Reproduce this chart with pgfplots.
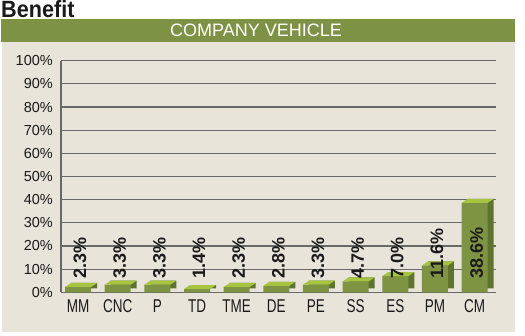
\documentclass[border=0pt]{standalone}
\usepackage{fontspec}
\setmainfont{Liberation Sans}
\newfontfamily\condfont[FakeStretch=0.73]{Liberation Sans}
\newfontfamily\titlefont[FakeStretch=0.92]{Liberation Sans}
\usepackage{pgfplots}
\pgfplotsset{compat=1.18}
\definecolor{beige}{HTML}{E8E4DA}
\definecolor{banner}{HTML}{7E9246}
\definecolor{barfront}{HTML}{7F9442}
\definecolor{barside}{HTML}{5F7330}
\definecolor{bartop}{HTML}{A7C440}
\definecolor{gridgray}{HTML}{686868}
\definecolor{txt}{HTML}{1A1A1A}
\pgfdeclareplotmark{topface}{%
  \pgfpathmoveto{\pgfqpoint{-13bp}{0bp}}%
  \pgfpathlineto{\pgfqpoint{13bp}{0bp}}%
  \pgfpathlineto{\pgfqpoint{19bp}{4bp}}%
  \pgfpathlineto{\pgfqpoint{-7bp}{4bp}}%
  \pgfpathclose
  \pgfusepathqfill}
\begin{document}
\begin{tikzpicture}
\useasboundingbox (0,0) rectangle (525bp,336bp);
\fill[white] (0,0) rectangle (525bp,336bp);
\fill[beige] (2bp,4bp) rectangle (515bp,294bp);
\fill[banner] (1bp,294bp) rectangle (515bp,317bp);
\node[anchor=base west, inner sep=0pt, text=txt, font=\titlefont\bfseries\fontsize{23.5bp}{23.5bp}\selectfont] at (1bp,318bp) {Benefit};
\node[anchor=base, inner sep=0pt, text=white, font=\fontsize{18bp}{18bp}\selectfont] at (256bp,299bp) {COMPANY VEHICLE};
\begin{axis}[
  at={(61bp,43.7bp)}, anchor=south west,
  scale only axis, width=435bp, height=231.6bp,
  xmin=-0.43, xmax=10.54, ymin=0, ymax=100,
  axis x line*=bottom, axis y line*=left,
  axis line style={-, draw=gridgray, line width=1.4bp},
  ytick={0,10,20,30,40,50,60,70,80,90,100},
  yticklabels={0\%,10\%,20\%,30\%,40\%,50\%,60\%,70\%,80\%,90\%,100\%},
  xtick={0,1,2,3,4,5,6,7,8,9,10},
  xticklabels={MM,CNC,P,TD,TME,DE,PE,SS,ES,PM,CM},
  major tick length=0pt,
  ymajorgrids, grid style={draw=gridgray, line width=1.1bp},
  yticklabel style={anchor=east, inner sep=0pt, xshift=-8bp, text=txt, font=\fontsize{14.5bp}{14.5bp}\selectfont},
  xticklabel style={anchor=north, inner sep=0pt, yshift=-7.5bp, text=txt, font=\condfont\fontsize{18.5bp}{18.5bp}\selectfont},
]
\addplot[ybar, bar width=26bp, bar shift=6bp, yshift=4bp, fill=barside, draw=none]
  coordinates {(0,2.3) (1,3.3) (2,3.3) (3,1.4) (4,2.3) (5,2.8) (6,3.3) (7,4.7) (8,7.0) (9,11.6) (10,38.6)};
\addplot[ybar, bar width=26bp, bar shift=0bp, fill=barfront, draw=none]
  coordinates {(0,2.3) (1,3.3) (2,3.3) (3,1.4) (4,2.3) (5,2.8) (6,3.3) (7,4.7) (8,7.0) (9,11.6) (10,38.6)};
\addplot[only marks, mark=topface, color=bartop]
  coordinates {(0,2.3) (1,3.3) (2,3.3) (3,1.4) (4,2.3) (5,2.8) (6,3.3) (7,4.7) (8,7.0) (9,11.6) (10,38.6)};
\addplot[draw=none, mark=none, nodes near coords, point meta=explicit symbolic,
  nodes near coords style={xshift=2bp, rotate=90, anchor=west, inner sep=0pt, text=txt, font=\bfseries\fontsize{18bp}{18bp}\selectfont}]
  coordinates {(0,5.7)[2.3\%] (1,5.7)[3.3\%] (2,5.7)[3.3\%] (3,5.7)[1.4\%] (4,5.7)[2.3\%] (5,5.7)[2.8\%] (6,5.7)[3.3\%] (7,5.7)[4.7\%] (8,5.7)[7.0\%] (9,5.7)[11.6\%] (10,5.7)[38.6\%]};
\end{axis}
\end{tikzpicture}
\end{document}
